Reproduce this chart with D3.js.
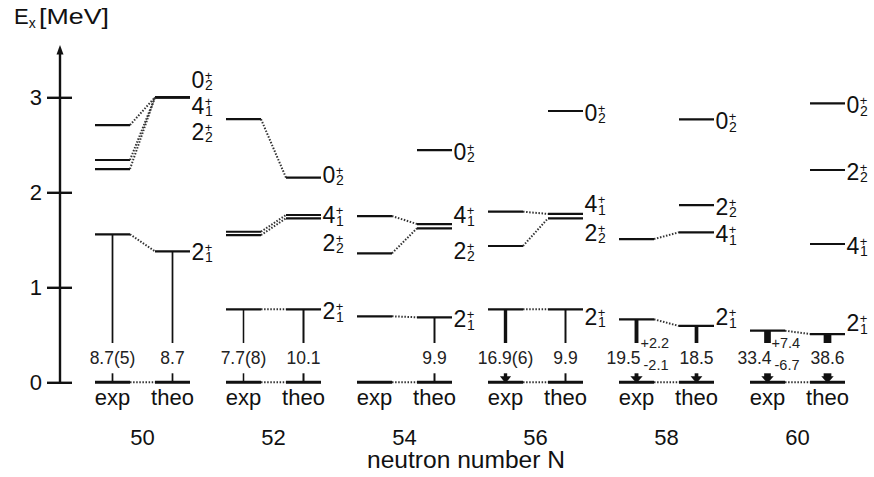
<!DOCTYPE html>
<html><head><meta charset="utf-8">
<script src="https://cdn.jsdelivr.net/npm/d3@7"></script>
<style>
html,body{margin:0;padding:0;background:#fff;}
svg{display:block;font-family:"Liberation Sans",Arial,Helvetica,sans-serif;}
</style></head><body>
<svg id="chart" width="874" height="477"></svg>
<script>
// Neutron numbers of the Kr isotopes
const neutronNumbers = [50, 52, 54, 56, 58, 60];
const yTicks = [0, 1, 2, 3];

// Excitation energies in MeV (null = level not drawn)
const exp21  = [1.558, 0.768, 0.695, 0.768, 0.663, 0.543];
const theo21 = [1.379, 0.768, 0.684, 0.768, 0.593, 0.508];
const exp41  = [2.245, 1.585, 1.750, 1.796, 1.508, null];
const theo41 = [3.000, 1.761, 1.666, 1.772, 1.579, 1.456];
const exp22  = [2.340, 1.550, 1.358, 1.435, null, null];
const theo22 = [3.000, 1.726, 1.621, 1.726, 1.866, 2.235];
const exp02  = [2.708, 2.770, null, null, null, null];
const theo02 = [3.000, 2.154, 2.445, 2.856, 2.768, 2.937];

// B(E2; 2+1 -> 0+1) in W.u.
const bE2Exp       = [8.7, 7.7, null, 16.9, 19.5, 33.4];
const bE2ExpText   = ["8.7(5)", "7.7(8)", null, "16.9(6)", "19.5", "33.4"];
const bE2ExpErrUp  = [null, null, null, null, "+2.2", "+7.4"];
const bE2ExpErrLo  = [null, null, null, null, "-2.1", "-6.7"];
const bE2Theo      = [8.7, 10.1, 9.9, 9.9, 18.5, 38.6];
const bE2TheoText  = ["8.7", "10.1", "9.9", "9.9", "18.5", "38.6"];

const states = [
  {key: "21", J: "2", n: "1", exp: exp21, theo: theo21},
  {key: "41", J: "4", n: "1", exp: exp41, theo: theo41},
  {key: "22", J: "2", n: "2", exp: exp22, theo: theo22},
  {key: "02", J: "0", n: "2", exp: exp02, theo: theo02}
];

// vertical offsets (px) that keep crowded level labels apart
const labelShift = {
  "50-02": -18, "50-41": 8, "50-22": 34, "50-21": 0,
  "52-02": -3, "52-41": 0, "52-22": 24,
  "54-41": -9, "54-22": 22,
  "56-41": -10, "56-22": 14, "56-21": 7,
  "58-21": -9, "60-21": -11
};

const svg = d3.select("#chart");
const ink = "#111";

const y = d3.scaleLinear().domain([0, 3]).range([382.3, 97.3]);
const gx = d3.scaleLinear().domain([50, 60]).range([142.5, 797.5]);
const side = d3.scalePoint().domain(["exp", "theo"]).range([-30, 30]);
const halfLen = 17.5;
const cx = (N, s) => gx(N) + side(s);

// width of a string at a given font size
function textWidth(str, size) {
  const t = svg.append("text").style("font-size", size + "px").text(str);
  const w = t.node().getComputedTextLength();
  t.remove();
  return w;
}

// ---- energy axis ----
const axisX = 60;
const yAxis = d3.axisLeft(y).tickValues(yTicks).tickFormat(d3.format("d"))
  .tickSizeInner(13).tickSizeOuter(0).tickPadding(5);
const ag = svg.append("g").attr("transform", `translate(${axisX},0)`).call(yAxis);
ag.select(".domain").remove();
ag.selectAll(".tick line").attr("x1", 12).attr("stroke", ink).attr("stroke-width", 2.4);
ag.selectAll(".tick text").attr("fill", ink).style("font-size", "22px")
  .style("font-family", "Liberation Sans, Arial, sans-serif");
svg.append("line").attr("x1", axisX).attr("x2", axisX)
  .attr("y1", y(0)).attr("y2", y(3.5)).attr("stroke", ink).attr("stroke-width", 2.4);
svg.append("path")
  .attr("d", `M${axisX},${y(3.55)} L${axisX - 3.5},${y(3.45)} L${axisX + 3.5},${y(3.45)} Z`)
  .attr("fill", ink);

const yl = svg.append("text").attr("x", 14).attr("y", 24).attr("fill", ink).style("font-size", "22px");
yl.append("tspan").text("E");
yl.append("tspan").attr("dy", 4).style("font-size", "14px").text("x");
yl.append("tspan").attr("dy", -4).attr("x", 39).attr("textLength", 70)
  .attr("lengthAdjust", "spacingAndGlyphs").text("[MeV]");

// ---- levels ----
const gLevels = svg.append("g");
const gDots = svg.append("g");

function levelLine(N, s, E, w) {
  const c = cx(N, s);
  gLevels.append("line").attr("x1", c - halfLen).attr("x2", c + halfLen)
    .attr("y1", y(E)).attr("y2", y(E)).attr("stroke", ink).attr("stroke-width", w);
}
function connector(N, Ee, Et) {
  gDots.append("line")
    .attr("x1", cx(N, "exp") + halfLen).attr("y1", y(Ee))
    .attr("x2", cx(N, "theo") - halfLen).attr("y2", y(Et))
    .attr("stroke", "#333").attr("stroke-width", 2).attr("stroke-dasharray", "1.5,1.6");
}

neutronNumbers.forEach((N, i) => {
  // ground states
  levelLine(N, "exp", 0, 3);
  levelLine(N, "theo", 0, 3);
  connector(N, 0, 0);
  states.forEach(st => {
    const e = st.exp[i], t = st.theo[i];
    if (e != null) levelLine(N, "exp", e, 2.2);
    if (t != null) levelLine(N, "theo", t, 2.2);
    if (e != null && t != null) connector(N, e, t);
  });
});

// ---- level labels: J with superscript parity and subscript index ----
const gLab = svg.append("g").attr("fill", ink);
const plusW = textWidth("+", 13);
neutronNumbers.forEach((N, i) => {
  states.forEach(st => {
    const t = st.theo[i];
    if (t == null) return;
    const shift = labelShift[`${N}-${st.key}`];
    const cy = y(t) + (shift == null ? 1.5 : shift);
    const base = cy + 8.3;
    const x0 = cx(N, "theo") + halfLen + 1.5;
    const lab = gLab.append("text").attr("x", x0).attr("y", base);
    lab.append("tspan").style("font-size", "23px").text(st.J);
    lab.append("tspan").attr("dx", 0.5).attr("dy", -8).style("font-size", "13px").text("+");
    lab.append("tspan").attr("dx", -plusW + 0.3).attr("dy", 10.5).style("font-size", "14px").text(st.n);
  });
});

// ---- E2 transitions 2+1 -> 0+1 ----
const gTr = svg.append("g");
const stopY = 343;
function transition(N, s, E, B, txt, up, lo) {
  if (B == null) return;
  const x = cx(N, s);
  const w = 0.2 * B;
  gTr.append("line").attr("x1", x).attr("x2", x).attr("y1", y(E)).attr("y2", stopY)
    .attr("stroke", ink).attr("stroke-width", w);
  const g0 = y(0);
  if (B >= 15) {
    const h = Math.min(6.2, 2.2 + 0.2 * B);
    gTr.append("line").attr("x1", x).attr("x2", x).attr("y1", g0 - 9).attr("y2", g0 - 4)
      .attr("stroke", ink).attr("stroke-width", w);
    gTr.append("path")
      .attr("d", `M${x - h},${g0 - 6} L${x + h},${g0 - 6} L${x},${g0 + 1} Z`)
      .attr("fill", ink);
  } else {
    gTr.append("line").attr("x1", x).attr("x2", x).attr("y1", g0 - 9).attr("y2", g0)
      .attr("stroke", ink).attr("stroke-width", w);
  }
  if (up) {
    const mw = textWidth(txt, 17.5);
    const uw = textWidth(up, 14.5);
    const lab = gTr.append("text").attr("x", x + 4 - mw).attr("y", 364).attr("fill", "#222");
    lab.append("tspan").style("font-size", "17.5px").text(txt);
    lab.append("tspan").attr("dy", -16).style("font-size", "14.5px").text(up);
    lab.append("tspan").attr("dx", -uw + 3).attr("dy", 22).style("font-size", "14.5px").text(lo);
  } else {
    gTr.append("text").attr("x", x).attr("y", 364).attr("text-anchor", "middle")
      .attr("fill", "#222").style("font-size", "17.5px").text(txt);
  }
}
neutronNumbers.forEach((N, i) => {
  transition(N, "exp", exp21[i], bE2Exp[i], bE2ExpText[i], bE2ExpErrUp[i], bE2ExpErrLo[i]);
  transition(N, "theo", theo21[i], bE2Theo[i], bE2TheoText[i], null, null);
});

// ---- horizontal labels ----
const gX = svg.append("g").attr("fill", ink).attr("text-anchor", "middle");
neutronNumbers.forEach(N => {
  ["exp", "theo"].forEach(s => {
    gX.append("text").attr("x", cx(N, s)).attr("y", 405).style("font-size", "22px").text(s);
  });
  gX.append("text").attr("x", gx(N)).attr("y", 445).style("font-size", "22px").text(N);
});
gX.append("text").attr("x", 466).attr("y", 468).style("font-size", "23px")
  .attr("textLength", 198).attr("lengthAdjust", "spacingAndGlyphs").text("neutron number N");
</script>
</body></html>
